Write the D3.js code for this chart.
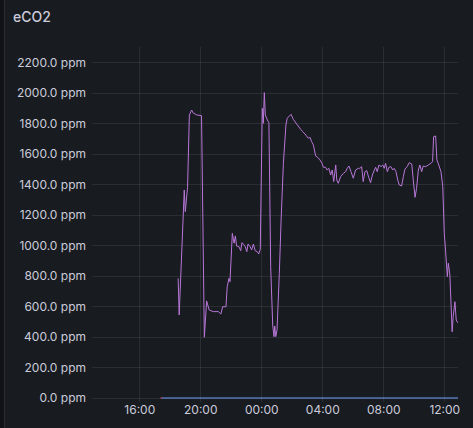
<!DOCTYPE html>
<html><head><meta charset="utf-8">
<script src="https://cdn.jsdelivr.net/npm/d3@7"></script>
<style>
html,body{margin:0;padding:0;background:#111217;}
svg{display:block;font-family:Inter,"Noto Sans",sans-serif;}
</style></head><body>
<svg id="c" width="473" height="428"></svg>
<script>
const title = "eCO2";
const yTicks = [0,200,400,600,800,1000,1200,1400,1600,1800,2000,2200];
const xTickLabels = ["16:00","20:00","00:00","04:00","08:00","12:00"];
const xTickTimes = ["2023-01-01T16:00","2023-01-01T20:00","2023-01-02T00:00","2023-01-02T04:00","2023-01-02T08:00","2023-01-02T12:00"];
const domainStart = "2023-01-01T12:54", domainEnd = "2023-01-02T12:54";
// eCO2 series (purple)
const co2Times = ["18:33","18:37","18:57","19:01","19:10","19:17","19:26","19:32","19:46","20:05","20:16","20:25","20:35","20:51","21:11","21:21","21:28","21:41","21:46","21:53","21:57","22:06","22:13","22:18","22:23","22:32","22:39","22:44","22:52","22:57","23:03","23:08","23:16","23:22","23:29","23:36","23:44","23:50","23:56",
"+00:04","+00:08","+00:12","+00:16","+00:24","+00:30","+00:37","+00:45","+00:50","+00:53","+00:57","+01:02","+01:11","+01:18","+01:27","+01:37","+01:42","+01:57","+02:06","+02:22","+02:35","+02:43","+02:52","+03:05","+03:12","+03:18","+03:25","+03:34","+03:42","+03:51","+03:59","+04:04","+04:13","+04:19","+04:26","+04:33","+04:39","+04:45","+04:53","+04:57","+05:03","+05:12","+05:23","+05:32","+05:38","+05:45","+05:53","+06:02","+06:11","+06:22","+06:28","+06:35","+06:41","+06:48","+06:55","+07:01","+07:10","+07:17","+07:25","+07:30","+07:36","+07:43","+07:51","+07:58","+08:04","+08:09","+08:16","+08:22","+08:30","+08:37","+08:43","+08:50","+08:57","+09:03","+09:12","+09:19","+09:25","+09:34","+09:42","+09:52","+09:58","+10:05","+10:11","+10:18","+10:24","+10:31","+10:37","+10:47","+10:57","+11:08","+11:14","+11:18","+11:26","+11:31","+11:36","+11:47","+11:54","+12:00","+12:05","+12:12","+12:16","+12:22","+12:31","+12:35","+12:42","+12:47","+12:53"];
const co2Values = [784,544,1363,1221,1381,1854,1887,1868,1855,1850,398,636,577,566,566,550,598,598,729,784,762,1079,1014,1062,996,992,965,1018,1003,992,959,1009,992,970,1009,965,959,944,974,
1898,1800,2001,1854,1822,1804,860,478,402,472,402,446,817,1166,1538,1789,1833,1859,1826,1789,1761,1745,1730,1702,1708,1680,1658,1586,1577,1560,1538,1512,1512,1494,1505,1461,1494,1418,1527,1428,1407,1450,1472,1483,1505,1520,1483,1440,1494,1505,1505,1516,1418,1483,1490,1455,1411,1461,1494,1512,1483,1527,1516,1527,1505,1538,1483,1512,1516,1494,1505,1483,1428,1396,1389,1450,1499,1516,1542,1533,1428,1315,1374,1494,1527,1483,1520,1516,1527,1538,1549,1712,1717,1560,1538,1483,1385,1079,970,795,883,806,434,533,631,511,493];
// zero series (blue) and a short red segment
const zeroTimes = ["17:28","+12:54"];
const zeroValues = [0,0];
const redTimes = ["17:24","17:28"];
const redValues = [0,0];

function toDate(s){
  if(s.startsWith("+")) return new Date("2023-01-02T"+s.slice(1));
  return new Date("2023-01-01T"+s);
}
const W=473,H=428;
const svg=d3.select("#c");
svg.append("rect").attr("x",4.5).attr("y",-2).attr("width",W).attr("height",H+4)
  .attr("fill","#181b1f").attr("stroke","rgba(204,204,220,0.12)");
svg.append("text").attr("x",13).attr("y",22).attr("fill","#ccccdc")
  .attr("font-size",14).attr("font-weight",500).text(title);

const pL=92,pR=458,pT=47,pB=398;
const x=d3.scaleTime().domain([new Date(domainStart),new Date(domainEnd)]).range([pL,pR]);
const y=d3.scaleLinear().domain([0,2300]).range([pB,pT]);

const grid="rgba(204,204,220,0.1)";
svg.append("g").selectAll("line").data(yTicks).join("line")
  .attr("x1",pL).attr("x2",pR).attr("y1",d=>Math.round(y(d))+0.5).attr("y2",d=>Math.round(y(d))+0.5)
  .attr("stroke",grid);
const xt=xTickTimes.map(t=>new Date(t));
svg.append("g").selectAll("line").data(xt).join("line")
  .attr("x1",d=>Math.round(x(d))+0.5).attr("x2",d=>Math.round(x(d))+0.5).attr("y1",pT).attr("y2",pB+4)
  .attr("stroke",grid);

const yAxis=d3.axisLeft(y).tickValues(yTicks).tickSize(0).tickPadding(0)
  .tickFormat(d=>d3.format(".1f")(d)+" ppm");
const ga=svg.append("g").attr("transform","translate(86,0)").call(yAxis);
ga.select(".domain").remove();
ga.selectAll("text").attr("fill","#ccccdc").attr("font-size",12).attr("font-family","Inter,sans-serif");

const xAxis=d3.axisBottom(x).tickValues(xt).tickSize(0).tickPadding(0)
  .tickFormat((d,i)=>xTickLabels[i]);
const gx=svg.append("g").attr("transform","translate(0,405)").call(xAxis);
gx.select(".domain").remove();
gx.selectAll("text").attr("fill","#ccccdc").attr("font-size",12).attr("font-family","Inter,sans-serif");

const line=d3.line().x(d=>x(d[0])).y(d=>y(d[1]));
const mk=(ts,vs)=>ts.map((t,i)=>[toDate(t),vs[i]]);
svg.append("path").datum(mk(redTimes,redValues)).attr("d",line).attr("fill","none").attr("stroke","#f2495c").attr("stroke-width",1.5);
svg.append("path").datum(mk(zeroTimes,zeroValues)).attr("d",line).attr("fill","none").attr("stroke","#6e9fff").attr("stroke-width",1);
svg.append("path").datum(mk(co2Times,co2Values)).attr("d",line).attr("fill","none").attr("stroke","#b877d9").attr("stroke-width",1);
</script></body></html>
